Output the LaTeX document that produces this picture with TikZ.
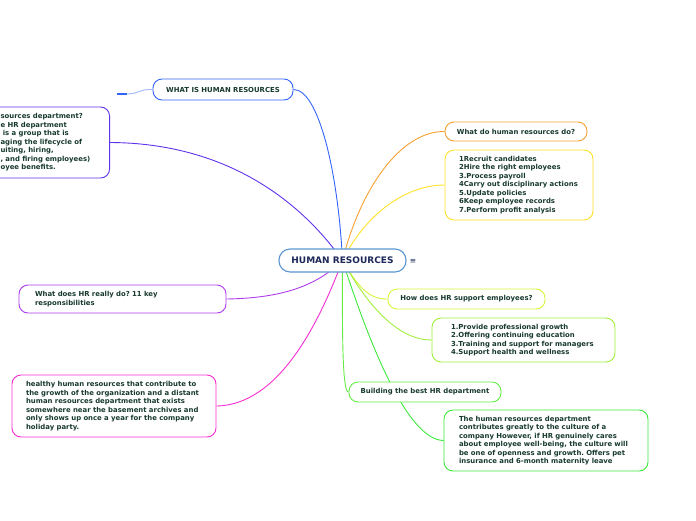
\documentclass[tikz,border=0pt]{standalone}
\usepackage{fontspec}
\setmainfont{DejaVu Sans}
\usepackage{tikz}
\usetikzlibrary{backgrounds}

\definecolor{txtcol}{RGB}{24,58,46}
\definecolor{rootcol}{RGB}{28,40,88}
\definecolor{rootline}{RGB}{90,150,210}
\definecolor{bluebr}{RGB}{50,100,250}
\definecolor{purplebr}{RGB}{95,50,235}
\definecolor{violetbr}{RGB}{175,60,235}
\definecolor{magentabr}{RGB}{245,45,210}
\definecolor{orangebr}{RGB}{245,160,50}
\definecolor{yellowbr}{RGB}{255,225,40}
\definecolor{limebr}{RGB}{215,245,60}
\definecolor{leafbr}{RGB}{160,240,60}
\definecolor{greenbr}{RGB}{100,235,70}
\definecolor{deepgreenbr}{RGB}{60,232,60}

\newcommand\topicfont{\fontsize{6.9}{8.5}\selectfont\bfseries\frenchspacing\hyphenpenalty=10000}

\tikzset{
  topic/.style={draw, line width=0.9pt, rounded corners=9, fill=white,
    font=\topicfont, text=txtcol, align=left, inner ysep=0pt},
  conn/.style={line width=0.9pt}
}

\begin{document}
\begin{tikzpicture}[x=1pt,y=-1pt]
  \useasboundingbox (0,0) rectangle (696,520);
  \clip (0,0) rectangle (696,520);
  % root
  \node[draw=rootline, line width=1.1pt, rounded corners=11, fill=white,
    minimum width=127, minimum height=23, inner sep=0pt,
    font=\fontsize{9}{10}\selectfont\bfseries, text=rootcol]
    (hr) at (342.5,260.5) {HUMAN RESOURCES};
  \node[font=\fontsize{7.5}{9}\selectfont, text=rootcol] (menu) at (413,261) {≡};
  % left side topics
  \node[topic, draw=bluebr, minimum width=140, minimum height=21]
    (what) at (223,89.5) {WHAT IS HUMAN RESOURCES};
  \node[topic, draw=purplebr, minimum height=71, text width=97, inner xsep=12,
    anchor=east] (dept) at (110,142.5)
    {sources department?\\e HR department\\~is a group that is\\aging the lifecycle of\\uiting, hiring,\\, and firing employees)\\oyee benefits.};
  \node[topic, draw=violetbr, minimum width=207, minimum height=28,
    text width=175, inner xsep=16] (whatdo) at (122.5,299)
    {What does HR really do? 11 key\\responsibilities};
  \node[topic, draw=magentabr, minimum width=204, minimum height=62,
    text width=176, inner xsep=14] (healthy) at (114,406)
    {healthy human resources that contribute to\\the growth of the organization and a distant\\human resources department that exists\\somewhere near the basement archives and\\only shows up once a year for the company\\holiday party.};
  % right side topics
  \node[topic, draw=orangebr, minimum width=142, minimum height=19]
    (hrdo) at (516,131.5) {What do human resources do?};
  \node[topic, draw=yellowbr, minimum width=148, minimum height=70,
    text width=120, inner xsep=14] (list7) at (519,185)
    {1Recruit candidates\\2Hire the right employees\\3.Process payroll\\4Carry out disciplinary actions\\5.Update policies\\6Keep employee records\\7.Perform profit analysis};
  \node[topic, draw=limebr, minimum width=157, minimum height=20]
    (how) at (466.5,299) {How does HR support employees?};
  \node[topic, draw=leafbr, minimum width=183, minimum height=44,
    text width=145, inner xsep=19] (list4) at (523.5,340)
    {1.Provide professional growth\\2.Offering continuing education\\3.Training and support for managers\\4.Support health and wellness};
  \node[topic, draw=greenbr, minimum width=152, minimum height=20]
    (build) at (425,392) {Building the best HR department};
  \node[topic, draw=deepgreenbr, minimum width=204, minimum height=61,
    text width=174, inner xsep=15] (culture) at (546,440.5)
    {The human resources department\\contributes greatly to the culture of a\\company However, if HR genuinely cares\\about employee well-being, the culture will\\be one of openness and growth. Offers pet\\insurance and 6-month maternity leave};
  \coordinate (stubmid) at (127,94);
  \coordinate (stub) at (117,94);
  % branches
  \begin{scope}[on background layer]
    \draw[conn, bluebr] (hr.center) .. controls (338,170) and (318,89) .. (what.east);
    \draw[conn, bluebr!45] (what.west) .. controls (140,89) and (138,94) .. (stubmid);
    \draw[line width=1.5pt, bluebr] (stubmid) -- (stub);
    \draw[conn, purplebr] (dept.east) .. controls (225,143) and (300,200) .. (hr.center);
    \draw[conn, violetbr] (whatdo.east) .. controls (290,298) and (320,282) .. (hr.center);
    \draw[conn, magentabr] (healthy.east) .. controls (280,405) and (320,320) .. (hr.center);
    \draw[conn, orangebr] (hr.center) .. controls (360,190) and (400,131) .. (hrdo.west);
    \draw[conn, yellowbr] (hr.center) .. controls (365,215) and (405,185) .. (list7.west);
    \draw[conn, limebr] (hr.center) .. controls (360,290) and (370,299) .. (how.west);
    \draw[conn, leafbr] (hr.center) .. controls (370,310) and (400,340) .. (list4.west);
    \draw[conn, greenbr] (hr.center) .. controls (342,350) and (343,392) .. (build.west);
    \draw[conn, deepgreenbr] (hr.center) .. controls (365,330) and (405,440) .. (culture.west);
  \end{scope}
\end{tikzpicture}
\end{document}
